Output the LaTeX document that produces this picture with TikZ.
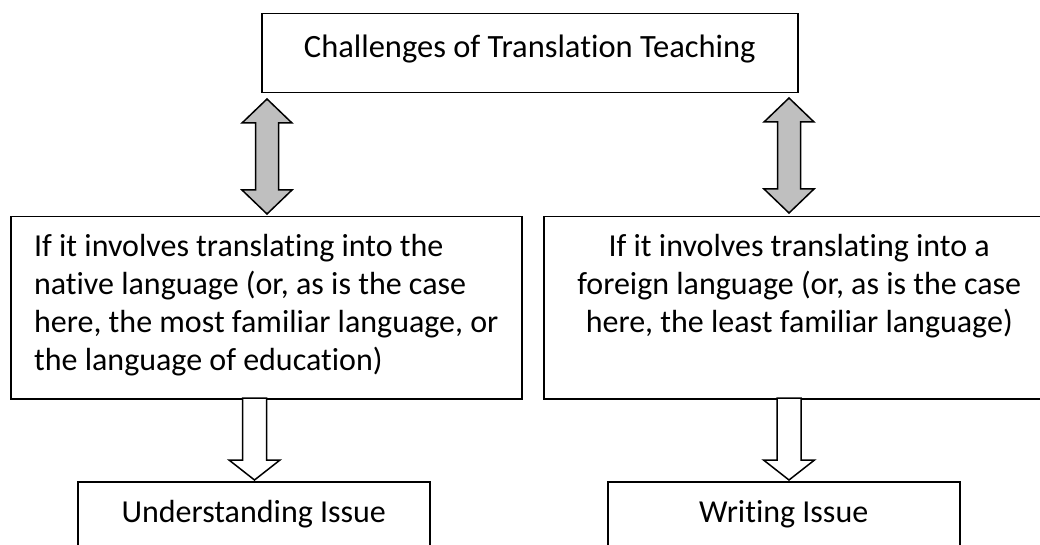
\documentclass[tikz,border=0pt]{standalone}
\usepackage{fontspec}
\setmainfont{Carlito}[Ligatures=NoCommon]
\usetikzlibrary{positioning}

\begin{document}
\begin{tikzpicture}[x=1pt, y=-1pt,
  box/.style={draw, line width=1.5pt, inner xsep=22pt, inner ysep=0pt,
              anchor=north west, font=\fontsize{32}{38}\selectfont},
  twoway/.pic={\draw[line width=1.5pt, fill=black!25]
      (0,0) -- (25,24) -- (11.5,24) -- (11.5,91) -- (25,91) -- (0,115)
      -- (-25,91) -- (-11.5,91) -- (-11.5,24) -- (-25,24) -- cycle;},
  oneway/.pic={\draw[line width=1.5pt, fill=white]
      (-12,0) -- (12,0) -- (12,62) -- (25.5,62) -- (0,82)
      -- (-25.5,62) -- (-12,62) -- cycle;},
]
\useasboundingbox (0,0) rectangle (1040,545);
\fill[white] (0,0) rectangle (1040,545);

% top box
\node[box, minimum width=536pt, text height=44pt, text depth=35pt,
      font=\fontsize{32.5}{38}\selectfont] (challenge) at (261,13)
  {Challenges of Translation Teaching};

% the two cases
\node[box, minimum width=511pt, align=flush left, text height=154pt, text depth=28pt] (native) at (10,216)
  {If it involves translating into the\\native language (or, as is the case\\here, the most familiar language, or\\the language of education)};
\node[box, minimum width=511pt, align=flush center, text height=116pt, text depth=66pt] (foreign) at (543,216)
  {If it involves translating into a\\foreign language (or, as is the case\\here, the least familiar language)};

% the two issues
\node[box, minimum width=352pt, text height=41pt, text depth=55pt] (understand) at (77,481)
  {Understanding Issue};
\node[box, minimum width=352pt, text height=41pt, text depth=55pt] (writing) at (607,481)
  {Writing Issue};

% arrows
\pic at (267,99) {twoway};
\pic at (789,98) {twoway};
\pic at (254.5,398) {oneway};
\pic at (789,398) {oneway};

\end{tikzpicture}
\end{document}
